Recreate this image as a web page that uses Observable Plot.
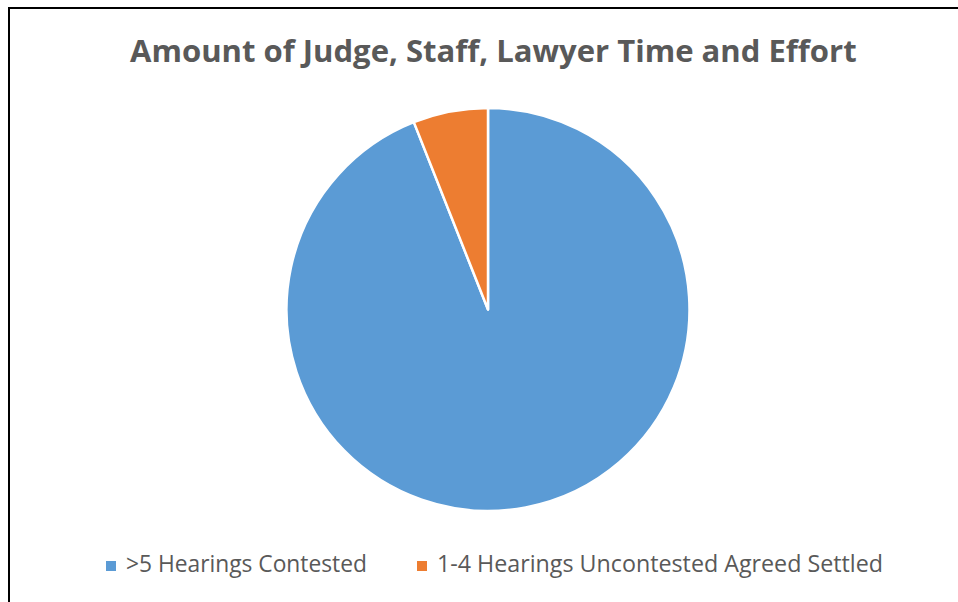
<!DOCTYPE html>
<html><head><meta charset="utf-8">
<script src="https://cdn.jsdelivr.net/npm/d3@7"></script>
<script src="https://cdn.jsdelivr.net/npm/@observablehq/plot@0.6"></script>
<style>
html,body{margin:0;padding:0;background:#fff;width:958px;height:602px;overflow:hidden;}
#frame{position:absolute;left:8px;top:7px;width:960px;height:600px;border-left:2px solid #000;border-top:2px solid #000;}
#chart{position:absolute;left:0;top:0;}
.t{position:absolute;white-space:nowrap;font-family:"Open Sans",sans-serif;color:#595959;line-height:1;font-size:24px;}
#title{font-weight:700;font-size:30px;}
.sw{position:absolute;width:10px;height:10px;}
</style></head><body>
<div id="frame"></div>
<div id="chart"></div>
<div id="title" class="t"></div>
<div id="legend"></div>
<script>
const categories = [">5 Hearings Contested", "1-4 Hearings Uncontested Agreed Settled"];
const shares = [94, 6];
const colors = ["#5B9BD5", "#ED7D31"];
const titleText = "Amount of Judge, Staff, Lawyer Time and Effort";

const data = categories.map((name, i) => ({name, value: shares[i]}));

const plot = Plot.plot({
  width: 958,
  height: 602,
  marginLeft: 18,
  marginRight: 0,
  marginTop: 108,
  marginBottom: 91,
  style: {background: "transparent", overflow: "visible"},
  color: {domain: categories, range: colors},
  marks: [
    Plot.dot(data, {
      x: null,
      y: null,
      fill: "name",
      render(index, scales, vals, dims) {
        const iw = dims.width - dims.marginLeft - dims.marginRight;
        const ih = dims.height - dims.marginTop - dims.marginBottom;
        const cx = dims.marginLeft + iw / 2;
        const cy = dims.marginTop + ih / 2;
        const r = Math.min(iw, ih) / 2;
        const arcs = d3.pie().sort(null).value(i => data[i].value)(Array.from(index));
        const g = d3.create("svg:g").attr("transform", `translate(${cx},${cy})`);
        g.selectAll("path").data(arcs).join("path")
          .attr("d", d3.arc().innerRadius(0).outerRadius(r))
          .attr("fill", a => vals.fill[a.data])
          .attr("stroke", "white")
          .attr("stroke-width", 2.5)
          .attr("stroke-linejoin", "round");
        return g.node();
      }
    })
  ]
});
document.getElementById("chart").appendChild(plot);

function place(el, left, baseline, targetWidth) {
  const fs0 = parseFloat(getComputedStyle(el).fontSize);
  const w = el.getBoundingClientRect().width;
  const fs = fs0 * targetWidth / w;
  el.style.fontSize = fs + "px";
  el.style.left = left + "px";
  el.style.top = (baseline - 0.888 * fs) + "px";
}

const titleEl = document.getElementById("title");
titleEl.textContent = titleText;
place(titleEl, 130, 63, 727);

const legend = document.getElementById("legend");
const legendPos = [{sw: 106, tx: 126, w: 241}, {sw: 417, tx: 437, w: 446}];
categories.forEach((c, i) => {
  const s = document.createElement("div");
  s.className = "sw";
  s.style.left = legendPos[i].sw + "px";
  s.style.top = "561px";
  s.style.background = colors[i];
  legend.appendChild(s);
  const t = document.createElement("div");
  t.className = "t";
  t.textContent = c;
  legend.appendChild(t);
  place(t, legendPos[i].tx, 573, legendPos[i].w);
});
</script>
</body></html>
